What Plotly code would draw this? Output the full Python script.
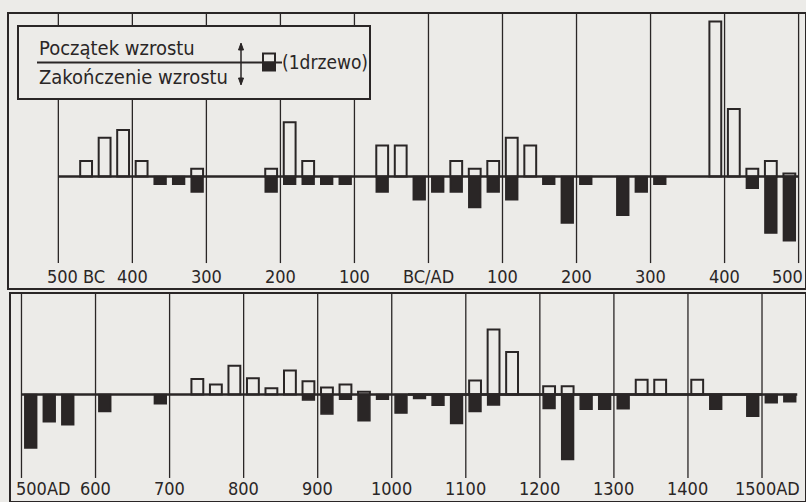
import plotly.graph_objects as go

# ---------------- data ----------------
# top panel: 500 BC – 500 AD, 25-year intervals (bin centres, years; BC negative)
top_years = [-462.5, -437.5, -412.5, -387.5, -362.5, -337.5, -312.5,
             -212.5, -187.5, -162.5, -137.5, -112.5,
             -62.5, -37.5, -12.5, 12.5, 37.5, 62.5, 87.5, 112.5, 137.5,
             162.5, 187.5, 212.5, 262.5, 287.5, 312.5,
             387.5, 412.5, 437.5, 462.5, 487.5]
top_start = [2, 5, 6, 2, 0, 0, 1,
             1, 7, 2, 0, 0,
             4, 4, 0, 0, 2, 1, 2, 5, 4,
             0, 0, 0, 0, 0, 0,
             20, 8.7, 1, 2, 0.4]
top_end = [0, 0, 0, 0, 1, 1, 2,
           2, 1, 1, 1, 1,
           2, 0, 3, 2, 2, 4, 2, 3, 0,
           1, 6, 1, 5, 2, 1,
           0, 0, 1.5, 7.3, 8.3]

# bottom panel: 500 AD – 1500 AD
bot_years = [512.5, 537.5, 562.5, 612.5, 687.5,
             737.5, 762.5, 787.5, 812.5, 837.5, 862.5, 887.5, 912.5, 937.5,
             962.5, 987.5, 1012.5, 1037.5, 1062.5, 1087.5,
             1112.5, 1137.5, 1162.5,
             1212.5, 1237.5, 1262.5, 1287.5, 1312.5, 1337.5, 1362.5,
             1412.5, 1437.5, 1487.5, 1512.5, 1537.5]
bot_start = [0, 0, 0, 0, 0,
             2.0, 1.3, 3.7, 2.1, 0.8, 3.1, 1.7, 0.9, 1.3,
             0.35, 0, 0, 0, 0, 0,
             1.8, 8.4, 5.5,
             1.05, 1.05, 0, 0, 0, 1.9, 1.9,
             1.9, 0, 0, 0, 0]
bot_end = [6.9, 3.5, 3.9, 2.2, 1.2,
           0, 0, 0, 0, 0, 0, 0.7, 2.5, 0.6,
           3.4, 0.6, 2.4, 0.5, 1.4, 3.75,
           2.2, 1.35, 0,
           1.8, 8.4, 1.9, 1.9, 1.85, 0, 0,
           0, 1.9, 2.8, 1.05, 0.95]

top_ticks = [-500, -400, -300, -200, -100, 0, 100, 200, 300, 400, 500]
top_labels = ["500 BC", "400", "300", "200", "100", "BC/AD",
              "100", "200", "300", "400", "500"]
bot_ticks = [500, 600, 700, 800, 900, 1000, 1100, 1200, 1300, 1400, 1500]
bot_labels = ["500AD", "600", "700", "800", "900", "1000",
              "1100", "1200", "1300", "1400", "1500AD"]

legend_start = "Początek wzrostu"
legend_end = "Zakończenie wzrostu"
legend_unit = "(1drzewo)"

# ---------------- style ----------------
W, H = 806, 502
BG = "#ecebe8"
INK = "#2a2626"
FONT = "DejaVu Sans Condensed, DejaVu Sans, sans-serif"
BAR_W = 16


def nz(v):
    return [x if x else None for x in v]


def neg(v):
    return [-x if x else None for x in v]


fig = go.Figure()

for xs, st, en, xa, ya in [(top_years, top_start, top_end, "x", "y"),
                           (bot_years, bot_start, bot_end, "x2", "y2")]:
    fig.add_trace(go.Bar(x=xs, y=neg(en), width=BAR_W, xaxis=xa, yaxis=ya,
                         marker=dict(color=INK, line=dict(color=INK, width=1.5)),
                         showlegend=False, hoverinfo="skip"))
    fig.add_trace(go.Bar(x=xs, y=nz(st), width=BAR_W, xaxis=xa, yaxis=ya,
                         marker=dict(color=BG, line=dict(color=INK, width=2)),
                         showlegend=False, hoverinfo="skip"))

# panel geometry (pixels from top)
top_y0, top_y1 = 13, 289
bot_y0 = 293
px_unit = 7.75
top_base = 176.5
bot_base = 394.5

ax_common = dict(visible=False, showgrid=False, zeroline=False, fixedrange=True)
fig.update_layout(
    width=W, height=H,
    margin=dict(l=0, r=0, t=0, b=0),
    paper_bgcolor=BG, plot_bgcolor=BG,
    barmode="overlay", bargap=0,
    xaxis=dict(domain=[8 / W, 1], range=[-568, 510], anchor="y", **ax_common),
    yaxis=dict(domain=[1 - top_y1 / H, 1 - top_y0 / H],
               range=[-(top_y1 - top_base) / px_unit, (top_base - top_y0) / px_unit],
               anchor="x", **ax_common),
    xaxis2=dict(domain=[10 / W, 1], range=[484.5, 1559.4], anchor="y2", **ax_common),
    yaxis2=dict(domain=[0, 1 - bot_y0 / H],
                range=[-(H - bot_base) / px_unit, (bot_base - bot_y0) / px_unit],
                anchor="x2", **ax_common),
)

shapes = []
annotations = []
lab_font = dict(family=FONT, size=18, color=INK)

# gridlines, frames, baselines
for ticks, xr, yr, ylow in [(top_ticks, "x", "y", 0.094), (bot_ticks, "x2", "y2", 0.115)]:
    for t in ticks:
        shapes.append(dict(type="line", xref=xr, yref=yr + " domain",
                           x0=t, x1=t, y0=ylow, y1=1,
                           line=dict(color=INK, width=1.3), layer="above"))
    shapes.append(dict(type="rect", xref=xr + " domain", yref=yr + " domain",
                       x0=0, x1=1, y0=0, y1=1,
                       line=dict(color=INK, width=2), layer="above"))

shapes.append(dict(type="line", xref="x", yref="y", x0=top_ticks[0], x1=top_ticks[-1],
                   y0=0, y1=0, line=dict(color=INK, width=2.5), layer="above"))
shapes.append(dict(type="line", xref="x2", yref="y2", x0=bot_ticks[0], x1=bot_ticks[-1],
                   y0=0, y1=0, line=dict(color=INK, width=2.5), layer="above"))
shapes.append(dict(type="line", xref="x2 domain", yref="y2", x0=0.5, x1=0.989,
                   y0=0, y1=0, line=dict(color=INK, width=2.5), layer="above"))

# tick labels
n = len(top_ticks)
for i, (t, lab) in enumerate(zip(top_ticks, top_labels)):
    a = dict(x=t, y=1 - 276 / H, xref="x", yref="paper", text=lab, showarrow=False,
             font=lab_font, yanchor="middle", xanchor="center")
    if i == 0:
        a.update(xanchor="left", xshift=-13)
    if i == n - 1:
        a.update(xanchor="right", xshift=6)
    annotations.append(a)
for i, (t, lab) in enumerate(zip(bot_ticks, bot_labels)):
    a = dict(x=t, y=1 - 488 / H, xref="x2", yref="paper", text=lab, showarrow=False,
             font=lab_font, yanchor="middle", xanchor="center")
    if i == 0:
        a.update(xanchor="left", xshift=-7)
    if i == n - 1:
        a.update(xanchor="right", xshift=40)
    annotations.append(a)


def px(x):
    return x / W


def py(y):
    return 1 - y / H


# legend box
shapes.append(dict(type="rect", xref="paper", yref="paper",
                   x0=px(18), x1=px(370), y0=py(99), y1=py(26),
                   fillcolor=BG, line=dict(color=INK, width=2), layer="above"))
shapes.append(dict(type="line", xref="paper", yref="paper",
                   x0=px(37), x1=px(282), y0=py(62.5), y1=py(62.5),
                   line=dict(color=INK, width=2), layer="above"))
shapes.append(dict(type="rect", xref="paper", yref="paper",
                   x0=px(263), x1=px(275), y0=py(62.5), y1=py(53.5),
                   fillcolor=BG, line=dict(color=INK, width=2), layer="above"))
shapes.append(dict(type="rect", xref="paper", yref="paper",
                   x0=px(263), x1=px(275), y0=py(70.5), y1=py(62.5),
                   fillcolor=INK, line=dict(color=INK, width=2), layer="above"))
shapes.append(dict(type="line", xref="paper", yref="paper",
                   x0=px(241), x1=px(241), y0=py(84), y1=py(44),
                   line=dict(color=INK, width=1.5), layer="above"))
for tip, d in [(43, 1), (85, -1)]:
    shapes.append(dict(type="path", xref="paper", yref="paper",
                       path=f"M {px(238.5)} {py(tip + 7 * d)} L {px(241)} {py(tip)} L {px(243.5)} {py(tip + 7 * d)} Z",
                       fillcolor=INK, line=dict(color=INK, width=1), layer="above"))

leg_font = dict(family=FONT, size=20, color=INK)
annotations.append(dict(x=px(37), y=py(48), xref="paper", yref="paper", text=legend_start,
                        showarrow=False, xanchor="left", yanchor="middle", font=leg_font))
annotations.append(dict(x=px(37), y=py(77), xref="paper", yref="paper", text=legend_end,
                        showarrow=False, xanchor="left", yanchor="middle", font=leg_font))
annotations.append(dict(x=px(280), y=py(62), xref="paper", yref="paper", text=legend_unit,
                        showarrow=False, xanchor="left", yanchor="middle",
                        font=dict(family=FONT, size=19, color=INK)))

fig.update_layout(shapes=shapes, annotations=annotations)
fig.write_html("out.html",
               config={"displayModeBar": False, "staticPlot": True},
               post_script="document.body.style.margin='0';document.body.style.overflow='hidden';")
